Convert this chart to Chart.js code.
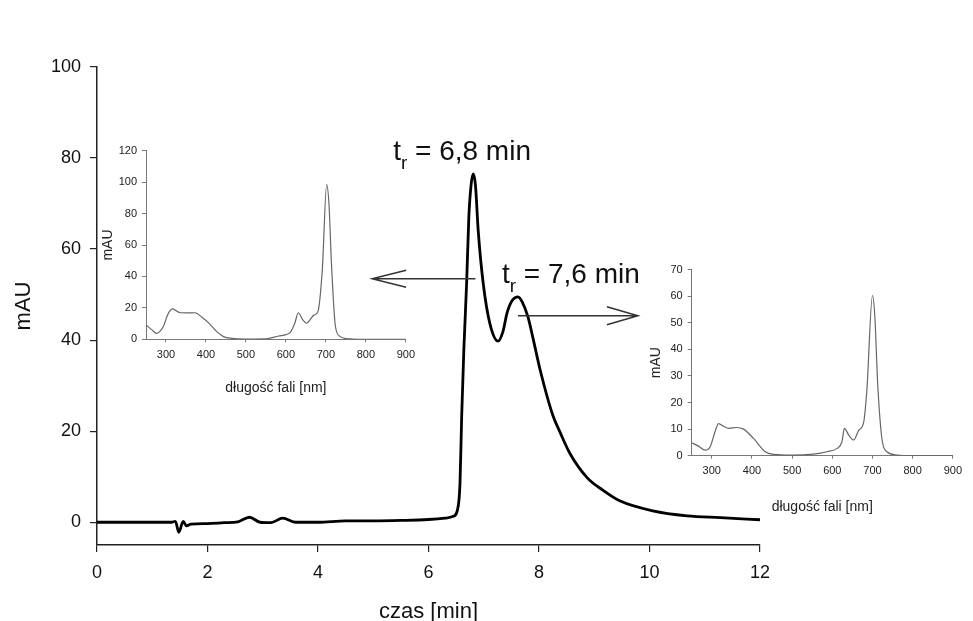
<!DOCTYPE html>
<html>
<head>
<meta charset="utf-8">
<script src="https://cdn.jsdelivr.net/npm/chart.js@4"></script>
<style>
  body { margin: 0; background: #fff; }
  #wrap { position: relative; width: 973px; height: 621px; }
  #wrap canvas { position: absolute; }
</style>
</head>
<body>
<div id="wrap">
  <canvas id="mainChart" width="973" height="621" style="left:0;top:0"></canvas>
  <canvas id="spec1" width="326" height="270" style="left:95px;top:138px"></canvas>
  <canvas id="spec2" width="328" height="260" style="left:640px;top:258px"></canvas>
</div>
<script>
const FONT = '"Liberation Sans", Arial, sans-serif';

// chromatogram
const czas = [0, 1.0, 1.35, 1.42, 1.48, 1.56, 1.62, 1.7, 2.0, 2.3,
  2.55, 2.76, 2.95, 3.15, 3.36, 3.6, 4.0, 4.5, 5.0, 5.5,
  6.0, 6.3, 6.45, 6.52, 6.57, 6.60, 6.64, 6.69, 6.73, 6.77,
  6.81, 6.85, 6.90, 6.99, 7.11, 7.26, 7.35, 7.42, 7.52, 7.62,
  7.70, 7.80, 7.89, 8.02, 8.25, 8.38, 8.56, 8.87, 9.16, 9.46,
  10.06, 10.68, 11.28, 12];
const mAU = [0, 0, 0, 0.2, -2.2, 0.2, -0.8, -0.4, -0.3, -0.1,
  0.1, 1.1, 0, -0.1, 0.9, 0, 0, 0.3, 0.3, 0.4,
  0.6, 0.9, 1.3, 2.5, 8.5, 23, 38, 52.5, 67, 74,
  76.5, 74, 64, 52.5, 43.7, 39.8, 42, 45.9, 48.8, 49.5,
  48.3, 45.1, 40.5, 33.5, 23.5, 19.8, 15.1, 9.8, 7.0, 4.7,
  2.5, 1.4, 1.0, 0.55];
const timeTicks = [0, 2, 4, 6, 8, 10, 12];
const mauTicks = [0, 20, 40, 60, 80, 100];
const retention = ['6,8', '7,6'];

// spectra
const nm1 = [250, 265, 276, 293, 305, 316, 335, 355, 373, 390, 406, 427, 444, 465, 500, 550, 582, 600,
  611, 622, 631, 642, 652, 662, 670, 680, 691, 702, 708, 714, 724, 736, 750, 766, 800, 900];
const spec1 = [9.1, 6, 3.8, 8, 16, 19.3, 16.9, 16.8, 16.9, 14, 10.6, 4.9, 1.7, 0.6, 0.2, 0.3, 2.1, 3,
  4.4, 10, 16.9, 12.5, 10.2, 13, 15.4, 17.6, 44, 98.5, 85, 48, 8, 1.7, 0.5, 0.2, 0, 0];
const nm2 = [250, 268, 283, 296, 308, 317, 330, 342, 362, 379, 404, 433, 454, 500, 553, 587,
  612, 624, 630, 641, 653, 666, 678, 686, 700, 706, 713, 724, 736, 761, 800, 900];
const spec2 = [4.9, 3.5, 2.1, 3.4, 9, 12.1, 11, 10.3, 10.6, 10, 6.5, 1.5, 0.5, 0.2, 0.6, 1.5,
  2.75, 5.25, 10.25, 7.75, 5.9, 9.6, 12.5, 24.6, 60.25, 52, 27, 5.9, 1.5, 0.25, 0, 0];
const nmTicks = [300, 400, 500, 600, 700, 800, 900];
const spec1Ticks = [0, 20, 40, 60, 80, 100, 120];
const spec2Ticks = [0, 10, 20, 30, 40, 50, 60, 70];

const toPoints = (xs, ys) => xs.map((x, i) => ({x: x, y: ys[i]}));
const fixTicks = vals => scale => { scale.ticks = vals.map(v => ({value: v})); };

function arrow(ctx, x1, x2, y, len, half) {
  const dir = x2 > x1 ? -1 : 1;
  ctx.beginPath();
  ctx.moveTo(x1, y); ctx.lineTo(x2, y);
  ctx.moveTo(x2 + dir * len, y - half); ctx.lineTo(x2, y); ctx.lineTo(x2 + dir * len, y + half);
  ctx.stroke();
}

function label(ctx, px, py, value) {
  ctx.fillStyle = '#111';
  ctx.textAlign = 'left';
  ctx.textBaseline = 'alphabetic';
  ctx.font = '28px ' + FONT;
  ctx.fillText('t', px, py);
  let w = ctx.measureText('t').width;
  ctx.font = '19px ' + FONT;
  ctx.fillText('r', px + w, py + 9);
  w += ctx.measureText('r').width;
  ctx.font = '28px ' + FONT;
  ctx.fillText(' = ' + value + ' min', px + w, py);
}

const annotations = {
  id: 'annotations',
  afterDatasetsDraw(chart) {
    const {ctx, scales: {x, y}} = chart;
    ctx.save();
    ctx.strokeStyle = '#333';
    ctx.lineWidth = 1.5;
    arrow(ctx, x.getPixelForValue(6.85), x.getPixelForValue(4.98), y.getPixelForValue(53.5), 34, 8.5);
    arrow(ctx, x.getPixelForValue(7.62), x.getPixelForValue(9.79), y.getPixelForValue(45.35), 31, 9);
    label(ctx, x.getPixelForValue(5.36), y.getPixelForValue(79.65), retention[0]);
    label(ctx, x.getPixelForValue(7.33), y.getPixelForValue(52.6), retention[1]);
    ctx.restore();
  }
};

new Chart(document.getElementById('mainChart'), {
  type: 'line',
  data: {
    datasets: [{
      data: toPoints(czas, mAU),
      borderColor: '#000',
      borderWidth: 2.8,
      pointRadius: 0,
      cubicInterpolationMode: 'monotone',
      fill: false
    }]
  },
  options: {
    responsive: false,
    animation: false,
    devicePixelRatio: 1,
    layout: { padding: { top: 67, right: 213, left: 0, bottom: 0 } },
    plugins: { legend: { display: false }, tooltip: { enabled: false } },
    scales: {
      x: {
        type: 'linear', min: 0, max: 12,
        afterBuildTicks: fixTicks(timeTicks),
        afterFit: s => { s.height = 76; },
        grid: { drawOnChartArea: false, tickLength: 7, color: '#222', lineWidth: 1.2 },
        border: { color: '#222', width: 1.5 },
        ticks: { color: '#111', font: { family: FONT, size: 18 }, padding: 10, maxRotation: 0 },
        title: { display: true, text: 'czas [min]', color: '#111',
          font: { family: FONT, size: 22, lineHeight: 0.8 }, padding: { top: 0, bottom: 0 } }
      },
      y: {
        type: 'linear', min: -5, max: 100,
        afterBuildTicks: fixTicks(mauTicks),
        afterFit: s => { s.width = 97; },
        grid: { drawOnChartArea: false, tickLength: 7, color: '#222', lineWidth: 1.2 },
        border: { color: '#222', width: 1.5 },
        ticks: { color: '#111', font: { family: FONT, size: 18 }, padding: 9 },
        title: { display: true, text: 'mAU', color: '#111',
          font: { family: FONT, size: 22 }, padding: { top: 11, bottom: 0 } }
      }
    }
  },
  plugins: [annotations]
});

function spectrum(id, xs, ys, yMax, yTicks, d) {
  return new Chart(document.getElementById(id), {
    type: 'line',
    data: {
      datasets: [{
        data: toPoints(xs, ys),
        borderColor: '#666',
        borderWidth: 1.2,
        pointRadius: 0,
        cubicInterpolationMode: 'monotone',
        fill: false
      }]
    },
    options: {
      responsive: false,
      animation: false,
      devicePixelRatio: 1,
      layout: { padding: { top: d.padTop, right: 0, left: 0, bottom: 0 } },
      plugins: { legend: { display: false }, tooltip: { enabled: false } },
      scales: {
        x: {
          type: 'linear', min: 250, max: 900,
          afterBuildTicks: fixTicks(nmTicks),
          afterFit: s => { s.height = d.xHeight; },
          grid: { drawOnChartArea: false, tickLength: 3, color: '#777' },
          border: { color: '#777', width: 1 },
          ticks: { color: '#222', font: { family: FONT, size: 11 }, padding: 6, maxRotation: 0 },
          title: { display: true, text: 'długość fali [nm]', color: '#222',
            font: { family: FONT, size: 14 }, padding: { top: 0, bottom: d.xTitlePad } }
        },
        y: {
          type: 'linear', min: 0, max: yMax,
          afterBuildTicks: fixTicks(yTicks),
          afterFit: s => { s.width = d.yWidth; },
          grid: { drawOnChartArea: false, tickLength: 4, color: '#777' },
          border: { color: '#777', width: 1 },
          ticks: { color: '#222', font: { family: FONT, size: 11 }, padding: 5 },
          title: { display: true, text: 'mAU', color: '#222',
            font: { family: FONT, size: 14 }, padding: { top: d.yTitlePad, bottom: 0 } }
        }
      }
    }
  });
}

spectrum('spec1', nm1, spec1, 120, spec1Ticks,
  { yWidth: 51, xHeight: 68.7, padTop: 12.7, yTitlePad: 4.6, xTitlePad: 11.6 });
spectrum('spec2', nm2, spec2, 70, spec2Ticks,
  { yWidth: 51.7, xHeight: 62.3, padTop: 11, yTitlePad: 7.6, xTitlePad: 2.9 });
</script>
</body>
</html>
